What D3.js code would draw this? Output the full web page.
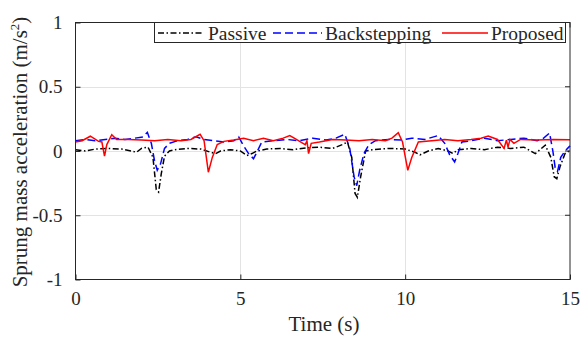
<!DOCTYPE html>
<html>
<head>
<meta charset="utf-8">
<script src="https://cdn.jsdelivr.net/npm/d3@7"></script>
<style>
  html, body { margin: 0; padding: 0; background: #fff; }
  svg { display: block; }
  text { font-family: "Liberation Serif", "Times New Roman", serif; fill: #262626; }
</style>
</head>
<body>
<svg id="chart" width="580" height="337"></svg>
<script>
// Sprung mass acceleration responses, [time (s), acceleration (m/s^2)]
const passive = [
  [0,0.01],[0.3,0.0],[0.6,0.015],[1.0,0.02],[1.4,0.015],[1.7,0.0],[1.85,-0.01],[2.0,0.02],
  [2.2,0.03],[2.35,-0.05],[2.45,-0.3],[2.52,-0.32],[2.6,-0.18],[2.7,-0.04],[2.85,0.0],[3.0,0.01],
  [3.4,0.02],[3.8,0.015],[4.1,-0.01],[4.25,-0.02],[4.4,0.0],[4.7,0.01],[5.0,0.0],[5.2,-0.035],
  [5.35,-0.02],[5.5,0.0],[5.8,0.015],[6.2,0.02],[6.6,0.01],[7.0,0.025],[7.4,0.03],[7.8,0.02],
  [8.1,0.05],[8.25,0.07],[8.38,-0.05],[8.48,-0.33],[8.55,-0.36],[8.65,-0.2],[8.8,0.0],[9.0,0.01],
  [9.5,0.02],[10.0,0.015],[10.3,-0.01],[10.45,-0.03],[10.7,0.0],[11.0,0.02],[11.3,0.0],[11.45,-0.02],
  [11.6,0.01],[12.0,0.02],[12.4,0.01],[12.8,0.03],[13.2,0.02],[13.6,0.03],[13.95,-0.02],[14.25,0.045],
  [14.42,-0.05],[14.52,-0.2],[14.6,-0.215],[14.7,-0.12],[14.85,-0.02],[15,0.005]
];
const backstepping = [
  [0,0.08],[0.3,0.09],[0.6,0.08],[0.9,0.09],[1.2,0.1],[1.5,0.09],[1.8,0.1],[2.05,0.11],
  [2.18,0.145],[2.3,0.06],[2.4,-0.08],[2.48,-0.15],[2.58,-0.1],[2.7,0.02],[2.85,0.06],[3.1,0.08],
  [3.4,0.09],[3.65,0.11],[3.9,0.09],[4.2,0.08],[4.5,0.07],[4.8,0.08],[4.95,0.11],[5.1,0.04],
  [5.25,-0.02],[5.4,-0.06],[5.5,-0.01],[5.65,0.07],[6.0,0.08],[6.4,0.09],[6.8,0.08],[7.2,0.1],
  [7.6,0.085],[7.9,0.1],[8.17,0.13],[8.32,0.02],[8.45,-0.2],[8.53,-0.27],[8.62,-0.15],[8.75,-0.02],
  [8.9,0.05],[9.1,0.08],[9.5,0.09],[9.9,0.085],[10.2,0.1],[10.6,0.09],[11.0,0.12],[11.2,0.06],
  [11.35,-0.03],[11.5,-0.085],[11.6,-0.02],[11.72,0.07],[12.0,0.08],[12.4,0.1],[12.8,0.08],[13.2,0.09],
  [13.6,0.1],[14.0,0.08],[14.2,0.1],[14.38,0.14],[14.48,0.0],[14.55,-0.13],[14.62,-0.16],[14.72,-0.05],
  [14.85,0.0],[15,0.04]
];
const proposed = [
  [0,0.07],[0.2,0.08],[0.45,0.115],[0.7,0.075],[0.8,0.07],[0.88,-0.04],[0.95,0.05],[1.1,0.127],
  [1.25,0.09],[1.6,0.09],[2.0,0.085],[2.4,0.08],[2.8,0.09],[3.2,0.08],[3.5,0.09],[3.78,0.13],
  [3.9,0.08],[4.03,-0.165],[4.15,-0.05],[4.3,0.05],[4.5,0.075],[4.8,0.085],[5.1,0.1],[5.4,0.08],
  [5.7,0.1],[6.0,0.08],[6.3,0.1],[6.5,0.12],[6.7,0.09],[6.9,0.06],[6.97,0.05],[7.02,0.08],
  [7.07,-0.02],[7.15,0.06],[7.4,0.07],[7.8,0.09],[8.2,0.085],[8.6,0.08],[9.0,0.09],[9.4,0.08],
  [9.6,0.1],[9.79,0.143],[9.92,0.07],[10.08,-0.15],[10.2,-0.05],[10.4,0.07],[10.8,0.08],[11.2,0.09],
  [11.6,0.08],[12.0,0.09],[12.3,0.1],[12.52,0.117],[12.8,0.09],[13.0,0.02],[13.07,0.085],[13.12,0.03],
  [13.18,0.09],[13.3,0.06],[13.5,0.09],[14.0,0.085],[14.5,0.09],[15,0.088]
];

const xTicks = [0, 5, 10, 15];
const yTicks = [-1, -0.5, 0, 0.5, 1];
const seriesNames = ["Passive", "Backstepping", "Proposed"];

const svg = d3.select("#chart");
const m = { left: 75.5, top: 22.5, right: 570, bottom: 279.5 };

const x = d3.scaleLinear().domain([0, 15]).range([m.left, m.right]);
const y = d3.scaleLinear().domain([-1, 1]).range([m.bottom, m.top]);

const dashPassive = "6,2.5,1.5,2.5";
const dashBack = "8,4";

// grid
const grid = svg.append("g").attr("stroke", "#e3e3e3").attr("stroke-width", 1);
grid.selectAll("line.gx").data(xTicks.slice(1, -1)).join("line")
  .attr("x1", d => Math.round(x(d)) + 0.5).attr("x2", d => Math.round(x(d)) + 0.5)
  .attr("y1", m.top).attr("y2", m.bottom);
grid.selectAll("line.gy").data(yTicks.slice(1, -1)).join("line")
  .attr("y1", d => Math.round(y(d)) + 0.5).attr("y2", d => Math.round(y(d)) + 0.5)
  .attr("x1", m.left).attr("x2", m.right);

// curves
const line = d3.line().x(d => x(d[0])).y(d => y(d[1]));
const plot = svg.append("g").attr("fill", "none").attr("stroke-width", 1.5);
plot.append("path").datum(passive).attr("d", line)
  .attr("stroke", "#000").attr("stroke-dasharray", dashPassive);
plot.append("path").datum(backstepping).attr("d", line)
  .attr("stroke", "#0000ff").attr("stroke-dasharray", dashBack);
plot.append("path").datum(proposed).attr("d", line)
  .attr("stroke", "#ff0000");

// axes (ticks pointing inward)
const tickLen = 5;
const xAxis = d3.axisBottom(x).tickValues(xTicks).tickSize(-tickLen).tickPadding(12).tickFormat(d3.format("d"));
const yAxis = d3.axisLeft(y).tickValues(yTicks).tickSize(-tickLen).tickPadding(13).tickFormat(d => d === 0 ? "0" : String(d));
const gx = svg.append("g").attr("transform", `translate(0,${m.bottom})`).call(xAxis);
const gy = svg.append("g").attr("transform", `translate(${m.left},0)`).call(yAxis);
[gx, gy].forEach(g => {
  g.select(".domain").remove();
  g.selectAll(".tick line").attr("stroke", "#262626");
  g.selectAll(".tick text").attr("font-family", "Liberation Serif").attr("font-size", 19).attr("fill", "#262626");
});
// top/right ticks
svg.append("g").selectAll("line").data(xTicks).join("line")
  .attr("x1", d => x(d)).attr("x2", d => x(d)).attr("y1", m.top).attr("y2", m.top + tickLen)
  .attr("stroke", "#262626");
svg.append("g").selectAll("line").data(yTicks).join("line")
  .attr("y1", d => y(d)).attr("y2", d => y(d)).attr("x1", m.right).attr("x2", m.right - tickLen)
  .attr("stroke", "#262626");

// box
svg.append("rect").attr("x", m.left).attr("y", m.top)
  .attr("width", m.right - m.left).attr("height", m.bottom - m.top)
  .attr("fill", "none").attr("stroke", "#262626").attr("stroke-width", 1);

// axis titles
svg.append("text").attr("x", 324).attr("y", 331)
  .attr("text-anchor", "middle").attr("font-size", 21).text("Time (s)");
const yl = svg.append("text").attr("transform", "translate(27,152) rotate(-90)")
  .attr("text-anchor", "middle").attr("font-size", 21);
yl.append("tspan").text("Sprung mass acceleration (m/s");
yl.append("tspan").attr("font-size", 13).attr("dy", -8).text("2");
yl.append("tspan").attr("dy", 8).text(")");

// legend
const lg = svg.append("g");
lg.append("rect").attr("x", 154.5).attr("y", 22.5).attr("width", 411).attr("height", 20)
  .attr("fill", "#fff").attr("stroke", "#262626").attr("stroke-width", 1);
const legendItems = [
  { name: seriesNames[0], color: "#000", dash: dashPassive, x0: 158, x1: 204, tx: 208 },
  { name: seriesNames[1], color: "#0000ff", dash: dashBack, x0: 273, x1: 322, tx: 325 },
  { name: seriesNames[2], color: "#ff0000", dash: null, x0: 442, x1: 488, tx: 491 }
];
legendItems.forEach(it => {
  lg.append("line").attr("x1", it.x0).attr("x2", it.x1).attr("y1", 33).attr("y2", 33)
    .attr("stroke", it.color).attr("stroke-width", 1.5).attr("stroke-dasharray", it.dash);
  lg.append("text").attr("x", it.tx).attr("y", 39.5).attr("font-size", 19.5).text(it.name);
});
</script>
</body>
</html>
